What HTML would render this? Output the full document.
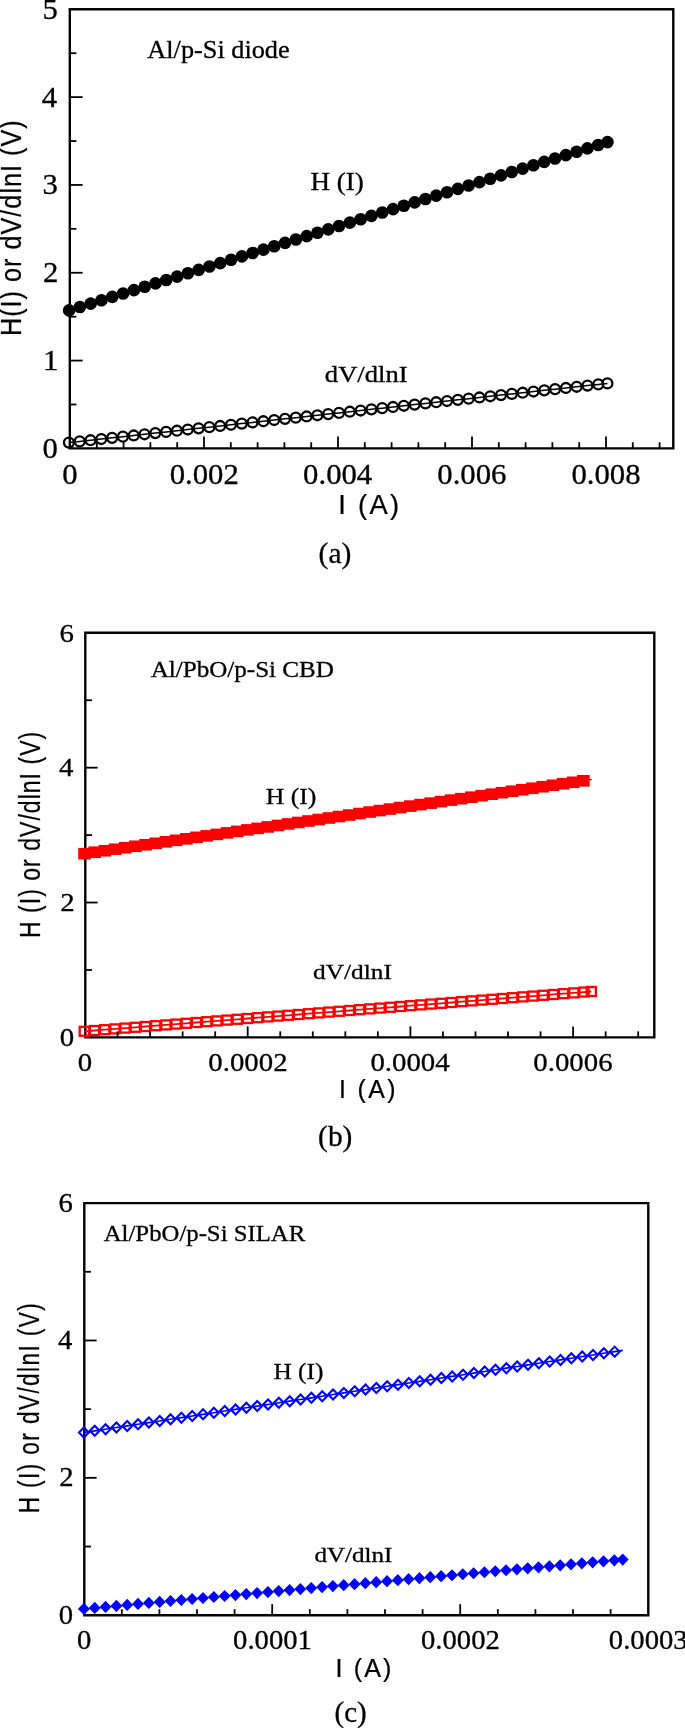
<!DOCTYPE html>
<html><head><meta charset="utf-8"><style>
html,body{margin:0;padding:0;background:#fff;}
body{width:685px;height:1728px;overflow:hidden;}
svg{display:block;will-change:transform;}
.s{font-family:"Liberation Serif",serif;stroke:#000;stroke-width:0.3px;}
.a{font-family:"Liberation Sans",sans-serif;stroke:#000;stroke-width:0.25px;}
</style></head><body>
<svg width="685" height="1728" viewBox="0 0 685 1728">
<rect width="685" height="1728" fill="#fff"/>
<path d="M69.80,9.30H673.30V448.40H69.80Z" fill="none" stroke="#000" stroke-width="2.4" stroke-linejoin="miter"/>
<polyline fill="none" stroke="#000" stroke-width="1.5" points="68.90,442.60 79.70,441.41 90.51,440.22 101.31,439.04 112.12,437.85 122.92,436.66 133.72,435.47 144.53,434.29 155.33,433.10 166.14,431.91 176.94,430.72 187.74,429.53 198.55,428.35 209.35,427.16 220.16,425.97 230.96,424.78 241.77,423.60 252.57,422.41 263.37,421.22 274.18,420.03 284.98,418.85 295.79,417.66 306.59,416.47 317.39,415.28 328.20,414.09 339.00,412.91 349.81,411.72 360.61,410.53 371.41,409.34 382.22,408.16 393.02,406.97 403.83,405.78 414.63,404.59 425.43,403.40 436.24,402.22 447.04,401.03 457.85,399.84 468.65,398.65 479.46,397.47 490.26,396.28 501.06,395.09 511.87,393.90 522.67,392.71 533.48,391.53 544.28,390.34 555.08,389.15 565.89,387.96 576.69,386.78 587.50,385.59 598.30,384.40 607.40,383.40"/>
<circle cx="68.90" cy="442.60" r="4.95" fill="none" stroke="#000" stroke-width="2.3"/>
<circle cx="79.70" cy="441.41" r="4.95" fill="none" stroke="#000" stroke-width="2.3"/>
<circle cx="90.51" cy="440.22" r="4.95" fill="none" stroke="#000" stroke-width="2.3"/>
<circle cx="101.31" cy="439.04" r="4.95" fill="none" stroke="#000" stroke-width="2.3"/>
<circle cx="112.12" cy="437.85" r="4.95" fill="none" stroke="#000" stroke-width="2.3"/>
<circle cx="122.92" cy="436.66" r="4.95" fill="none" stroke="#000" stroke-width="2.3"/>
<circle cx="133.72" cy="435.47" r="4.95" fill="none" stroke="#000" stroke-width="2.3"/>
<circle cx="144.53" cy="434.29" r="4.95" fill="none" stroke="#000" stroke-width="2.3"/>
<circle cx="155.33" cy="433.10" r="4.95" fill="none" stroke="#000" stroke-width="2.3"/>
<circle cx="166.14" cy="431.91" r="4.95" fill="none" stroke="#000" stroke-width="2.3"/>
<circle cx="176.94" cy="430.72" r="4.95" fill="none" stroke="#000" stroke-width="2.3"/>
<circle cx="187.74" cy="429.53" r="4.95" fill="none" stroke="#000" stroke-width="2.3"/>
<circle cx="198.55" cy="428.35" r="4.95" fill="none" stroke="#000" stroke-width="2.3"/>
<circle cx="209.35" cy="427.16" r="4.95" fill="none" stroke="#000" stroke-width="2.3"/>
<circle cx="220.16" cy="425.97" r="4.95" fill="none" stroke="#000" stroke-width="2.3"/>
<circle cx="230.96" cy="424.78" r="4.95" fill="none" stroke="#000" stroke-width="2.3"/>
<circle cx="241.77" cy="423.60" r="4.95" fill="none" stroke="#000" stroke-width="2.3"/>
<circle cx="252.57" cy="422.41" r="4.95" fill="none" stroke="#000" stroke-width="2.3"/>
<circle cx="263.37" cy="421.22" r="4.95" fill="none" stroke="#000" stroke-width="2.3"/>
<circle cx="274.18" cy="420.03" r="4.95" fill="none" stroke="#000" stroke-width="2.3"/>
<circle cx="284.98" cy="418.85" r="4.95" fill="none" stroke="#000" stroke-width="2.3"/>
<circle cx="295.79" cy="417.66" r="4.95" fill="none" stroke="#000" stroke-width="2.3"/>
<circle cx="306.59" cy="416.47" r="4.95" fill="none" stroke="#000" stroke-width="2.3"/>
<circle cx="317.39" cy="415.28" r="4.95" fill="none" stroke="#000" stroke-width="2.3"/>
<circle cx="328.20" cy="414.09" r="4.95" fill="none" stroke="#000" stroke-width="2.3"/>
<circle cx="339.00" cy="412.91" r="4.95" fill="none" stroke="#000" stroke-width="2.3"/>
<circle cx="349.81" cy="411.72" r="4.95" fill="none" stroke="#000" stroke-width="2.3"/>
<circle cx="360.61" cy="410.53" r="4.95" fill="none" stroke="#000" stroke-width="2.3"/>
<circle cx="371.41" cy="409.34" r="4.95" fill="none" stroke="#000" stroke-width="2.3"/>
<circle cx="382.22" cy="408.16" r="4.95" fill="none" stroke="#000" stroke-width="2.3"/>
<circle cx="393.02" cy="406.97" r="4.95" fill="none" stroke="#000" stroke-width="2.3"/>
<circle cx="403.83" cy="405.78" r="4.95" fill="none" stroke="#000" stroke-width="2.3"/>
<circle cx="414.63" cy="404.59" r="4.95" fill="none" stroke="#000" stroke-width="2.3"/>
<circle cx="425.43" cy="403.40" r="4.95" fill="none" stroke="#000" stroke-width="2.3"/>
<circle cx="436.24" cy="402.22" r="4.95" fill="none" stroke="#000" stroke-width="2.3"/>
<circle cx="447.04" cy="401.03" r="4.95" fill="none" stroke="#000" stroke-width="2.3"/>
<circle cx="457.85" cy="399.84" r="4.95" fill="none" stroke="#000" stroke-width="2.3"/>
<circle cx="468.65" cy="398.65" r="4.95" fill="none" stroke="#000" stroke-width="2.3"/>
<circle cx="479.46" cy="397.47" r="4.95" fill="none" stroke="#000" stroke-width="2.3"/>
<circle cx="490.26" cy="396.28" r="4.95" fill="none" stroke="#000" stroke-width="2.3"/>
<circle cx="501.06" cy="395.09" r="4.95" fill="none" stroke="#000" stroke-width="2.3"/>
<circle cx="511.87" cy="393.90" r="4.95" fill="none" stroke="#000" stroke-width="2.3"/>
<circle cx="522.67" cy="392.71" r="4.95" fill="none" stroke="#000" stroke-width="2.3"/>
<circle cx="533.48" cy="391.53" r="4.95" fill="none" stroke="#000" stroke-width="2.3"/>
<circle cx="544.28" cy="390.34" r="4.95" fill="none" stroke="#000" stroke-width="2.3"/>
<circle cx="555.08" cy="389.15" r="4.95" fill="none" stroke="#000" stroke-width="2.3"/>
<circle cx="565.89" cy="387.96" r="4.95" fill="none" stroke="#000" stroke-width="2.3"/>
<circle cx="576.69" cy="386.78" r="4.95" fill="none" stroke="#000" stroke-width="2.3"/>
<circle cx="587.50" cy="385.59" r="4.95" fill="none" stroke="#000" stroke-width="2.3"/>
<circle cx="598.30" cy="384.40" r="4.95" fill="none" stroke="#000" stroke-width="2.3"/>
<circle cx="607.40" cy="383.40" r="4.95" fill="none" stroke="#000" stroke-width="2.3"/>
<circle cx="69.10" cy="310.40" r="6.3" fill="#000"/>
<circle cx="79.90" cy="307.02" r="6.3" fill="#000"/>
<circle cx="90.70" cy="303.65" r="6.3" fill="#000"/>
<circle cx="101.49" cy="300.27" r="6.3" fill="#000"/>
<circle cx="112.29" cy="296.90" r="6.3" fill="#000"/>
<circle cx="123.09" cy="293.52" r="6.3" fill="#000"/>
<circle cx="133.89" cy="290.15" r="6.3" fill="#000"/>
<circle cx="144.69" cy="286.77" r="6.3" fill="#000"/>
<circle cx="155.48" cy="283.40" r="6.3" fill="#000"/>
<circle cx="166.28" cy="280.02" r="6.3" fill="#000"/>
<circle cx="177.08" cy="276.65" r="6.3" fill="#000"/>
<circle cx="187.88" cy="273.27" r="6.3" fill="#000"/>
<circle cx="198.68" cy="269.90" r="6.3" fill="#000"/>
<circle cx="209.47" cy="266.52" r="6.3" fill="#000"/>
<circle cx="220.27" cy="263.14" r="6.3" fill="#000"/>
<circle cx="231.07" cy="259.77" r="6.3" fill="#000"/>
<circle cx="241.87" cy="256.39" r="6.3" fill="#000"/>
<circle cx="252.67" cy="253.02" r="6.3" fill="#000"/>
<circle cx="263.46" cy="249.64" r="6.3" fill="#000"/>
<circle cx="274.26" cy="246.27" r="6.3" fill="#000"/>
<circle cx="285.06" cy="242.89" r="6.3" fill="#000"/>
<circle cx="295.86" cy="239.52" r="6.3" fill="#000"/>
<circle cx="306.66" cy="236.14" r="6.3" fill="#000"/>
<circle cx="317.45" cy="232.77" r="6.3" fill="#000"/>
<circle cx="328.25" cy="229.39" r="6.3" fill="#000"/>
<circle cx="339.05" cy="226.02" r="6.3" fill="#000"/>
<circle cx="349.85" cy="222.64" r="6.3" fill="#000"/>
<circle cx="360.64" cy="219.27" r="6.3" fill="#000"/>
<circle cx="371.44" cy="215.89" r="6.3" fill="#000"/>
<circle cx="382.24" cy="212.51" r="6.3" fill="#000"/>
<circle cx="393.04" cy="209.14" r="6.3" fill="#000"/>
<circle cx="403.84" cy="205.76" r="6.3" fill="#000"/>
<circle cx="414.63" cy="202.39" r="6.3" fill="#000"/>
<circle cx="425.43" cy="199.01" r="6.3" fill="#000"/>
<circle cx="436.23" cy="195.64" r="6.3" fill="#000"/>
<circle cx="447.03" cy="192.26" r="6.3" fill="#000"/>
<circle cx="457.83" cy="188.89" r="6.3" fill="#000"/>
<circle cx="468.62" cy="185.51" r="6.3" fill="#000"/>
<circle cx="479.42" cy="182.14" r="6.3" fill="#000"/>
<circle cx="490.22" cy="178.76" r="6.3" fill="#000"/>
<circle cx="501.02" cy="175.39" r="6.3" fill="#000"/>
<circle cx="511.82" cy="172.01" r="6.3" fill="#000"/>
<circle cx="522.61" cy="168.63" r="6.3" fill="#000"/>
<circle cx="533.41" cy="165.26" r="6.3" fill="#000"/>
<circle cx="544.21" cy="161.88" r="6.3" fill="#000"/>
<circle cx="555.01" cy="158.51" r="6.3" fill="#000"/>
<circle cx="565.81" cy="155.13" r="6.3" fill="#000"/>
<circle cx="576.60" cy="151.76" r="6.3" fill="#000"/>
<circle cx="587.40" cy="148.38" r="6.3" fill="#000"/>
<circle cx="598.20" cy="145.01" r="6.3" fill="#000"/>
<circle cx="607.50" cy="142.10" r="6.3" fill="#000"/>
<line x1="69.80" y1="404.49" x2="76.40" y2="404.49" stroke="#000" stroke-width="1.8"/>
<line x1="69.80" y1="360.58" x2="82.60" y2="360.58" stroke="#000" stroke-width="1.8"/>
<line x1="69.80" y1="316.67" x2="76.40" y2="316.67" stroke="#000" stroke-width="1.8"/>
<line x1="69.80" y1="272.76" x2="82.60" y2="272.76" stroke="#000" stroke-width="1.8"/>
<line x1="69.80" y1="228.85" x2="76.40" y2="228.85" stroke="#000" stroke-width="1.8"/>
<line x1="69.80" y1="184.94" x2="82.60" y2="184.94" stroke="#000" stroke-width="1.8"/>
<line x1="69.80" y1="141.03" x2="76.40" y2="141.03" stroke="#000" stroke-width="1.8"/>
<line x1="69.80" y1="97.12" x2="82.60" y2="97.12" stroke="#000" stroke-width="1.8"/>
<line x1="69.80" y1="53.21" x2="76.40" y2="53.21" stroke="#000" stroke-width="1.8"/>
<line x1="96.80" y1="448.40" x2="96.80" y2="442.20" stroke="#000" stroke-width="1.8"/>
<line x1="123.60" y1="448.40" x2="123.60" y2="442.20" stroke="#000" stroke-width="1.8"/>
<line x1="150.40" y1="448.40" x2="150.40" y2="442.20" stroke="#000" stroke-width="1.8"/>
<line x1="177.20" y1="448.40" x2="177.20" y2="442.20" stroke="#000" stroke-width="1.8"/>
<line x1="204.00" y1="448.40" x2="204.00" y2="436.40" stroke="#000" stroke-width="1.8"/>
<line x1="230.80" y1="448.40" x2="230.80" y2="442.20" stroke="#000" stroke-width="1.8"/>
<line x1="257.60" y1="448.40" x2="257.60" y2="442.20" stroke="#000" stroke-width="1.8"/>
<line x1="284.40" y1="448.40" x2="284.40" y2="442.20" stroke="#000" stroke-width="1.8"/>
<line x1="311.20" y1="448.40" x2="311.20" y2="442.20" stroke="#000" stroke-width="1.8"/>
<line x1="338.00" y1="448.40" x2="338.00" y2="436.40" stroke="#000" stroke-width="1.8"/>
<line x1="364.80" y1="448.40" x2="364.80" y2="442.20" stroke="#000" stroke-width="1.8"/>
<line x1="391.60" y1="448.40" x2="391.60" y2="442.20" stroke="#000" stroke-width="1.8"/>
<line x1="418.40" y1="448.40" x2="418.40" y2="442.20" stroke="#000" stroke-width="1.8"/>
<line x1="445.20" y1="448.40" x2="445.20" y2="442.20" stroke="#000" stroke-width="1.8"/>
<line x1="472.00" y1="448.40" x2="472.00" y2="436.40" stroke="#000" stroke-width="1.8"/>
<line x1="498.80" y1="448.40" x2="498.80" y2="442.20" stroke="#000" stroke-width="1.8"/>
<line x1="525.60" y1="448.40" x2="525.60" y2="442.20" stroke="#000" stroke-width="1.8"/>
<line x1="552.40" y1="448.40" x2="552.40" y2="442.20" stroke="#000" stroke-width="1.8"/>
<line x1="579.20" y1="448.40" x2="579.20" y2="442.20" stroke="#000" stroke-width="1.8"/>
<line x1="606.00" y1="448.40" x2="606.00" y2="436.40" stroke="#000" stroke-width="1.8"/>
<line x1="632.80" y1="448.40" x2="632.80" y2="442.20" stroke="#000" stroke-width="1.8"/>
<line x1="659.60" y1="448.40" x2="659.60" y2="442.20" stroke="#000" stroke-width="1.8"/>
<text transform="translate(42.40,457.90) scale(1.0700,1)" class="s" font-size="28.70">0</text>
<text transform="translate(43.09,370.08) scale(1.0700,1)" class="s" font-size="28.70">1</text>
<text transform="translate(42.93,282.26) scale(1.0700,1)" class="s" font-size="28.70">2</text>
<text transform="translate(42.47,194.44) scale(1.0700,1)" class="s" font-size="28.70">3</text>
<text transform="translate(41.71,106.62) scale(1.0700,1)" class="s" font-size="28.70">4</text>
<text transform="translate(42.47,18.80) scale(1.0700,1)" class="s" font-size="28.70">5</text>
<text transform="translate(62.32,484.10) scale(1.0700,1)" class="s" font-size="28.70">0</text>
<text transform="translate(169.72,484.10) scale(1.0700,1)" class="s" font-size="28.70">0.002</text>
<text transform="translate(303.11,484.10) scale(1.0700,1)" class="s" font-size="28.70">0.004</text>
<text transform="translate(437.34,484.10) scale(1.0700,1)" class="s" font-size="28.70">0.006</text>
<text transform="translate(571.45,484.10) scale(1.0700,1)" class="s" font-size="28.70">0.008</text>
<text transform="translate(338.37,513.60) scale(0.9700,1)" class="a" font-size="28.22" letter-spacing="2.340" fill="#000">I (A)</text>
<text transform="translate(318.57,562.60) scale(1.0112,1)" class="s" font-size="29.21" fill="#000">(a)</text>
<text transform="translate(21.30,336.08) rotate(-90) scale(0.8500,1)" class="a" font-size="29.67" letter-spacing="1.199">H(I) or dV/dlnI (V)</text>
<text transform="translate(147.34,58.10) scale(1.0498,1)" class="s" font-size="25.04" fill="#000">Al/p-Si diode</text>
<text transform="translate(310.39,190.00) scale(1.1159,1)" class="s" font-size="24.27" fill="#000">H (I)</text>
<text transform="translate(324.87,382.20) scale(1.1347,1)" class="s" font-size="23.45" fill="#000">dV/dlnI</text>
<path d="M85.30,632.80H654.30V1037.40H85.30Z" fill="none" stroke="#000" stroke-width="2.4" stroke-linejoin="miter"/>
<polyline fill="none" stroke="#ff0000" stroke-width="1.8" points="84.30,1031.30 94.50,1030.50 104.70,1029.70 114.89,1028.90 125.09,1028.10 135.29,1027.30 145.49,1026.50 155.69,1025.70 165.88,1024.90 176.08,1024.10 186.28,1023.29 196.48,1022.49 206.68,1021.69 216.87,1020.89 227.07,1020.09 237.27,1019.29 247.47,1018.49 257.67,1017.69 267.86,1016.89 278.06,1016.09 288.26,1015.29 298.46,1014.49 308.66,1013.69 318.85,1012.89 329.05,1012.09 339.25,1011.29 349.45,1010.49 359.64,1009.69 369.84,1008.88 380.04,1008.08 390.24,1007.28 400.44,1006.48 410.63,1005.68 420.83,1004.88 431.03,1004.08 441.23,1003.28 451.43,1002.48 461.62,1001.68 471.82,1000.88 482.02,1000.08 492.22,999.28 502.42,998.48 512.61,997.68 522.81,996.88 533.01,996.08 543.21,995.28 553.41,994.47 563.60,993.67 573.80,992.87 584.00,992.07 591.30,991.50"/>
<rect x="79.70" y="1026.80" width="9.2" height="9.0" fill="none" stroke="#ff0000" stroke-width="2.3"/>
<rect x="89.90" y="1026.00" width="9.2" height="9.0" fill="none" stroke="#ff0000" stroke-width="2.3"/>
<rect x="100.10" y="1025.20" width="9.2" height="9.0" fill="none" stroke="#ff0000" stroke-width="2.3"/>
<rect x="110.29" y="1024.40" width="9.2" height="9.0" fill="none" stroke="#ff0000" stroke-width="2.3"/>
<rect x="120.49" y="1023.60" width="9.2" height="9.0" fill="none" stroke="#ff0000" stroke-width="2.3"/>
<rect x="130.69" y="1022.80" width="9.2" height="9.0" fill="none" stroke="#ff0000" stroke-width="2.3"/>
<rect x="140.89" y="1022.00" width="9.2" height="9.0" fill="none" stroke="#ff0000" stroke-width="2.3"/>
<rect x="151.09" y="1021.20" width="9.2" height="9.0" fill="none" stroke="#ff0000" stroke-width="2.3"/>
<rect x="161.28" y="1020.40" width="9.2" height="9.0" fill="none" stroke="#ff0000" stroke-width="2.3"/>
<rect x="171.48" y="1019.60" width="9.2" height="9.0" fill="none" stroke="#ff0000" stroke-width="2.3"/>
<rect x="181.68" y="1018.79" width="9.2" height="9.0" fill="none" stroke="#ff0000" stroke-width="2.3"/>
<rect x="191.88" y="1017.99" width="9.2" height="9.0" fill="none" stroke="#ff0000" stroke-width="2.3"/>
<rect x="202.08" y="1017.19" width="9.2" height="9.0" fill="none" stroke="#ff0000" stroke-width="2.3"/>
<rect x="212.27" y="1016.39" width="9.2" height="9.0" fill="none" stroke="#ff0000" stroke-width="2.3"/>
<rect x="222.47" y="1015.59" width="9.2" height="9.0" fill="none" stroke="#ff0000" stroke-width="2.3"/>
<rect x="232.67" y="1014.79" width="9.2" height="9.0" fill="none" stroke="#ff0000" stroke-width="2.3"/>
<rect x="242.87" y="1013.99" width="9.2" height="9.0" fill="none" stroke="#ff0000" stroke-width="2.3"/>
<rect x="253.07" y="1013.19" width="9.2" height="9.0" fill="none" stroke="#ff0000" stroke-width="2.3"/>
<rect x="263.26" y="1012.39" width="9.2" height="9.0" fill="none" stroke="#ff0000" stroke-width="2.3"/>
<rect x="273.46" y="1011.59" width="9.2" height="9.0" fill="none" stroke="#ff0000" stroke-width="2.3"/>
<rect x="283.66" y="1010.79" width="9.2" height="9.0" fill="none" stroke="#ff0000" stroke-width="2.3"/>
<rect x="293.86" y="1009.99" width="9.2" height="9.0" fill="none" stroke="#ff0000" stroke-width="2.3"/>
<rect x="304.06" y="1009.19" width="9.2" height="9.0" fill="none" stroke="#ff0000" stroke-width="2.3"/>
<rect x="314.25" y="1008.39" width="9.2" height="9.0" fill="none" stroke="#ff0000" stroke-width="2.3"/>
<rect x="324.45" y="1007.59" width="9.2" height="9.0" fill="none" stroke="#ff0000" stroke-width="2.3"/>
<rect x="334.65" y="1006.79" width="9.2" height="9.0" fill="none" stroke="#ff0000" stroke-width="2.3"/>
<rect x="344.85" y="1005.99" width="9.2" height="9.0" fill="none" stroke="#ff0000" stroke-width="2.3"/>
<rect x="355.04" y="1005.19" width="9.2" height="9.0" fill="none" stroke="#ff0000" stroke-width="2.3"/>
<rect x="365.24" y="1004.38" width="9.2" height="9.0" fill="none" stroke="#ff0000" stroke-width="2.3"/>
<rect x="375.44" y="1003.58" width="9.2" height="9.0" fill="none" stroke="#ff0000" stroke-width="2.3"/>
<rect x="385.64" y="1002.78" width="9.2" height="9.0" fill="none" stroke="#ff0000" stroke-width="2.3"/>
<rect x="395.84" y="1001.98" width="9.2" height="9.0" fill="none" stroke="#ff0000" stroke-width="2.3"/>
<rect x="406.03" y="1001.18" width="9.2" height="9.0" fill="none" stroke="#ff0000" stroke-width="2.3"/>
<rect x="416.23" y="1000.38" width="9.2" height="9.0" fill="none" stroke="#ff0000" stroke-width="2.3"/>
<rect x="426.43" y="999.58" width="9.2" height="9.0" fill="none" stroke="#ff0000" stroke-width="2.3"/>
<rect x="436.63" y="998.78" width="9.2" height="9.0" fill="none" stroke="#ff0000" stroke-width="2.3"/>
<rect x="446.83" y="997.98" width="9.2" height="9.0" fill="none" stroke="#ff0000" stroke-width="2.3"/>
<rect x="457.02" y="997.18" width="9.2" height="9.0" fill="none" stroke="#ff0000" stroke-width="2.3"/>
<rect x="467.22" y="996.38" width="9.2" height="9.0" fill="none" stroke="#ff0000" stroke-width="2.3"/>
<rect x="477.42" y="995.58" width="9.2" height="9.0" fill="none" stroke="#ff0000" stroke-width="2.3"/>
<rect x="487.62" y="994.78" width="9.2" height="9.0" fill="none" stroke="#ff0000" stroke-width="2.3"/>
<rect x="497.82" y="993.98" width="9.2" height="9.0" fill="none" stroke="#ff0000" stroke-width="2.3"/>
<rect x="508.01" y="993.18" width="9.2" height="9.0" fill="none" stroke="#ff0000" stroke-width="2.3"/>
<rect x="518.21" y="992.38" width="9.2" height="9.0" fill="none" stroke="#ff0000" stroke-width="2.3"/>
<rect x="528.41" y="991.58" width="9.2" height="9.0" fill="none" stroke="#ff0000" stroke-width="2.3"/>
<rect x="538.61" y="990.78" width="9.2" height="9.0" fill="none" stroke="#ff0000" stroke-width="2.3"/>
<rect x="548.81" y="989.97" width="9.2" height="9.0" fill="none" stroke="#ff0000" stroke-width="2.3"/>
<rect x="559.00" y="989.17" width="9.2" height="9.0" fill="none" stroke="#ff0000" stroke-width="2.3"/>
<rect x="569.20" y="988.37" width="9.2" height="9.0" fill="none" stroke="#ff0000" stroke-width="2.3"/>
<rect x="579.40" y="987.57" width="9.2" height="9.0" fill="none" stroke="#ff0000" stroke-width="2.3"/>
<rect x="586.70" y="987.00" width="9.2" height="9.0" fill="none" stroke="#ff0000" stroke-width="2.3"/>
<line x1="583.40" y1="780.00" x2="591.50" y2="779.60" stroke="#000" stroke-width="1.2"/>
<rect x="78.20" y="847.90" width="12.6" height="11.6" fill="#ff0000"/>
<rect x="88.38" y="846.41" width="12.6" height="11.6" fill="#ff0000"/>
<rect x="98.56" y="844.92" width="12.6" height="11.6" fill="#ff0000"/>
<rect x="108.74" y="843.44" width="12.6" height="11.6" fill="#ff0000"/>
<rect x="118.93" y="841.95" width="12.6" height="11.6" fill="#ff0000"/>
<rect x="129.11" y="840.46" width="12.6" height="11.6" fill="#ff0000"/>
<rect x="139.29" y="838.97" width="12.6" height="11.6" fill="#ff0000"/>
<rect x="149.47" y="837.49" width="12.6" height="11.6" fill="#ff0000"/>
<rect x="159.65" y="836.00" width="12.6" height="11.6" fill="#ff0000"/>
<rect x="169.83" y="834.51" width="12.6" height="11.6" fill="#ff0000"/>
<rect x="180.02" y="833.02" width="12.6" height="11.6" fill="#ff0000"/>
<rect x="190.20" y="831.53" width="12.6" height="11.6" fill="#ff0000"/>
<rect x="200.38" y="830.05" width="12.6" height="11.6" fill="#ff0000"/>
<rect x="210.56" y="828.56" width="12.6" height="11.6" fill="#ff0000"/>
<rect x="220.74" y="827.07" width="12.6" height="11.6" fill="#ff0000"/>
<rect x="230.92" y="825.58" width="12.6" height="11.6" fill="#ff0000"/>
<rect x="241.11" y="824.10" width="12.6" height="11.6" fill="#ff0000"/>
<rect x="251.29" y="822.61" width="12.6" height="11.6" fill="#ff0000"/>
<rect x="261.47" y="821.12" width="12.6" height="11.6" fill="#ff0000"/>
<rect x="271.65" y="819.63" width="12.6" height="11.6" fill="#ff0000"/>
<rect x="281.83" y="818.14" width="12.6" height="11.6" fill="#ff0000"/>
<rect x="292.01" y="816.66" width="12.6" height="11.6" fill="#ff0000"/>
<rect x="302.20" y="815.17" width="12.6" height="11.6" fill="#ff0000"/>
<rect x="312.38" y="813.68" width="12.6" height="11.6" fill="#ff0000"/>
<rect x="322.56" y="812.19" width="12.6" height="11.6" fill="#ff0000"/>
<rect x="332.74" y="810.71" width="12.6" height="11.6" fill="#ff0000"/>
<rect x="342.92" y="809.22" width="12.6" height="11.6" fill="#ff0000"/>
<rect x="353.10" y="807.73" width="12.6" height="11.6" fill="#ff0000"/>
<rect x="363.29" y="806.24" width="12.6" height="11.6" fill="#ff0000"/>
<rect x="373.47" y="804.76" width="12.6" height="11.6" fill="#ff0000"/>
<rect x="383.65" y="803.27" width="12.6" height="11.6" fill="#ff0000"/>
<rect x="393.83" y="801.78" width="12.6" height="11.6" fill="#ff0000"/>
<rect x="404.01" y="800.29" width="12.6" height="11.6" fill="#ff0000"/>
<rect x="414.19" y="798.80" width="12.6" height="11.6" fill="#ff0000"/>
<rect x="424.38" y="797.32" width="12.6" height="11.6" fill="#ff0000"/>
<rect x="434.56" y="795.83" width="12.6" height="11.6" fill="#ff0000"/>
<rect x="444.74" y="794.34" width="12.6" height="11.6" fill="#ff0000"/>
<rect x="454.92" y="792.85" width="12.6" height="11.6" fill="#ff0000"/>
<rect x="465.10" y="791.37" width="12.6" height="11.6" fill="#ff0000"/>
<rect x="475.28" y="789.88" width="12.6" height="11.6" fill="#ff0000"/>
<rect x="485.47" y="788.39" width="12.6" height="11.6" fill="#ff0000"/>
<rect x="495.65" y="786.90" width="12.6" height="11.6" fill="#ff0000"/>
<rect x="505.83" y="785.41" width="12.6" height="11.6" fill="#ff0000"/>
<rect x="516.01" y="783.93" width="12.6" height="11.6" fill="#ff0000"/>
<rect x="526.19" y="782.44" width="12.6" height="11.6" fill="#ff0000"/>
<rect x="536.37" y="780.95" width="12.6" height="11.6" fill="#ff0000"/>
<rect x="546.56" y="779.46" width="12.6" height="11.6" fill="#ff0000"/>
<rect x="556.74" y="777.98" width="12.6" height="11.6" fill="#ff0000"/>
<rect x="566.92" y="776.49" width="12.6" height="11.6" fill="#ff0000"/>
<rect x="577.10" y="775.00" width="12.6" height="11.6" fill="#ff0000"/>
<line x1="85.30" y1="969.97" x2="91.90" y2="969.97" stroke="#000" stroke-width="1.8"/>
<line x1="85.30" y1="902.53" x2="97.60" y2="902.53" stroke="#000" stroke-width="1.8"/>
<line x1="85.30" y1="835.10" x2="91.90" y2="835.10" stroke="#000" stroke-width="1.8"/>
<line x1="85.30" y1="767.67" x2="97.60" y2="767.67" stroke="#000" stroke-width="1.8"/>
<line x1="85.30" y1="700.23" x2="91.90" y2="700.23" stroke="#000" stroke-width="1.8"/>
<line x1="117.54" y1="1037.40" x2="117.54" y2="1031.40" stroke="#000" stroke-width="1.8"/>
<line x1="150.08" y1="1037.40" x2="150.08" y2="1031.40" stroke="#000" stroke-width="1.8"/>
<line x1="182.62" y1="1037.40" x2="182.62" y2="1031.40" stroke="#000" stroke-width="1.8"/>
<line x1="215.16" y1="1037.40" x2="215.16" y2="1031.40" stroke="#000" stroke-width="1.8"/>
<line x1="247.70" y1="1037.40" x2="247.70" y2="1026.40" stroke="#000" stroke-width="1.8"/>
<line x1="280.24" y1="1037.40" x2="280.24" y2="1031.40" stroke="#000" stroke-width="1.8"/>
<line x1="312.78" y1="1037.40" x2="312.78" y2="1031.40" stroke="#000" stroke-width="1.8"/>
<line x1="345.32" y1="1037.40" x2="345.32" y2="1031.40" stroke="#000" stroke-width="1.8"/>
<line x1="377.86" y1="1037.40" x2="377.86" y2="1031.40" stroke="#000" stroke-width="1.8"/>
<line x1="410.40" y1="1037.40" x2="410.40" y2="1026.40" stroke="#000" stroke-width="1.8"/>
<line x1="442.94" y1="1037.40" x2="442.94" y2="1031.40" stroke="#000" stroke-width="1.8"/>
<line x1="475.48" y1="1037.40" x2="475.48" y2="1031.40" stroke="#000" stroke-width="1.8"/>
<line x1="508.02" y1="1037.40" x2="508.02" y2="1031.40" stroke="#000" stroke-width="1.8"/>
<line x1="540.56" y1="1037.40" x2="540.56" y2="1031.40" stroke="#000" stroke-width="1.8"/>
<line x1="573.10" y1="1037.40" x2="573.10" y2="1026.40" stroke="#000" stroke-width="1.8"/>
<line x1="605.64" y1="1037.40" x2="605.64" y2="1031.40" stroke="#000" stroke-width="1.8"/>
<line x1="638.18" y1="1037.40" x2="638.18" y2="1031.40" stroke="#000" stroke-width="1.8"/>
<text transform="translate(59.67,1046.20) scale(1.1000,1)" class="s" font-size="26.20">0</text>
<text transform="translate(60.18,911.33) scale(1.1000,1)" class="s" font-size="26.20">2</text>
<text transform="translate(59.02,776.47) scale(1.1000,1)" class="s" font-size="26.20">4</text>
<text transform="translate(59.45,641.60) scale(1.1000,1)" class="s" font-size="26.20">6</text>
<text transform="translate(77.80,1071.20) scale(1.1000,1)" class="s" font-size="26.20">0</text>
<text transform="translate(208.32,1071.20) scale(1.1000,1)" class="s" font-size="26.20">0.0002</text>
<text transform="translate(370.45,1071.20) scale(1.1000,1)" class="s" font-size="26.20">0.0004</text>
<text transform="translate(533.36,1071.20) scale(1.1000,1)" class="s" font-size="26.20">0.0006</text>
<text transform="translate(339.00,1097.70) scale(0.9700,1)" class="a" font-size="25.60" letter-spacing="2.469" fill="#000">I (A)</text>
<text transform="translate(318.08,1146.30) scale(0.9974,1)" class="s" font-size="29.50" fill="#000">(b)</text>
<text transform="translate(39.70,938.00) rotate(-90) scale(0.7800,1)" class="a" font-size="29.53" letter-spacing="1.309">H (I) or dV/dlnI (V)</text>
<text transform="translate(150.65,676.70) scale(1.0831,1)" class="s" font-size="23.17" fill="#000">Al/PbO/p-Si CBD</text>
<text transform="translate(265.63,803.70) scale(1.0820,1)" class="s" font-size="23.82" fill="#000">H (I)</text>
<text transform="translate(313.01,979.40) scale(1.1673,1)" class="s" font-size="21.73" fill="#000">dV/dlnI</text>
<path d="M84.30,1203.10H648.30V1615.20H84.30Z" fill="none" stroke="#000" stroke-width="2.4" stroke-linejoin="miter"/>
<polyline fill="none" stroke="#0000ff" stroke-width="1.6" points="83.90,1432.50 94.73,1430.85 105.57,1429.20 116.40,1427.55 127.23,1425.90 138.06,1424.25 148.90,1422.60 159.73,1420.95 170.56,1419.30 181.39,1417.65 192.23,1416.00 203.06,1414.35 213.89,1412.70 224.72,1411.05 235.56,1409.40 246.39,1407.75 257.22,1406.09 268.06,1404.44 278.89,1402.79 289.72,1401.14 300.55,1399.49 311.39,1397.84 322.22,1396.19 333.05,1394.54 343.88,1392.89 354.72,1391.24 365.55,1389.59 376.38,1387.94 387.21,1386.29 398.05,1384.64 408.88,1382.99 419.71,1381.34 430.54,1379.69 441.38,1378.04 452.21,1376.39 463.04,1374.74 473.88,1373.09 484.71,1371.44 495.54,1369.79 506.37,1368.14 517.21,1366.49 528.04,1364.84 538.87,1363.19 549.70,1361.54 560.54,1359.89 571.37,1358.24 582.20,1356.58 593.03,1354.93 603.87,1353.28 614.70,1351.63 622.80,1350.40"/>
<path d="M79.00,1432.50L83.90,1427.50L88.80,1432.50L83.90,1437.50Z" fill="none" stroke="#0000ff" stroke-width="2.1"/>
<path d="M89.83,1430.85L94.73,1425.85L99.63,1430.85L94.73,1435.85Z" fill="none" stroke="#0000ff" stroke-width="2.1"/>
<path d="M100.67,1429.20L105.57,1424.20L110.47,1429.20L105.57,1434.20Z" fill="none" stroke="#0000ff" stroke-width="2.1"/>
<path d="M111.50,1427.55L116.40,1422.55L121.30,1427.55L116.40,1432.55Z" fill="none" stroke="#0000ff" stroke-width="2.1"/>
<path d="M122.33,1425.90L127.23,1420.90L132.13,1425.90L127.23,1430.90Z" fill="none" stroke="#0000ff" stroke-width="2.1"/>
<path d="M133.16,1424.25L138.06,1419.25L142.96,1424.25L138.06,1429.25Z" fill="none" stroke="#0000ff" stroke-width="2.1"/>
<path d="M144.00,1422.60L148.90,1417.60L153.80,1422.60L148.90,1427.60Z" fill="none" stroke="#0000ff" stroke-width="2.1"/>
<path d="M154.83,1420.95L159.73,1415.95L164.63,1420.95L159.73,1425.95Z" fill="none" stroke="#0000ff" stroke-width="2.1"/>
<path d="M165.66,1419.30L170.56,1414.30L175.46,1419.30L170.56,1424.30Z" fill="none" stroke="#0000ff" stroke-width="2.1"/>
<path d="M176.49,1417.65L181.39,1412.65L186.29,1417.65L181.39,1422.65Z" fill="none" stroke="#0000ff" stroke-width="2.1"/>
<path d="M187.33,1416.00L192.23,1411.00L197.13,1416.00L192.23,1421.00Z" fill="none" stroke="#0000ff" stroke-width="2.1"/>
<path d="M198.16,1414.35L203.06,1409.35L207.96,1414.35L203.06,1419.35Z" fill="none" stroke="#0000ff" stroke-width="2.1"/>
<path d="M208.99,1412.70L213.89,1407.70L218.79,1412.70L213.89,1417.70Z" fill="none" stroke="#0000ff" stroke-width="2.1"/>
<path d="M219.82,1411.05L224.72,1406.05L229.62,1411.05L224.72,1416.05Z" fill="none" stroke="#0000ff" stroke-width="2.1"/>
<path d="M230.66,1409.40L235.56,1404.40L240.46,1409.40L235.56,1414.40Z" fill="none" stroke="#0000ff" stroke-width="2.1"/>
<path d="M241.49,1407.75L246.39,1402.75L251.29,1407.75L246.39,1412.75Z" fill="none" stroke="#0000ff" stroke-width="2.1"/>
<path d="M252.32,1406.09L257.22,1401.09L262.12,1406.09L257.22,1411.09Z" fill="none" stroke="#0000ff" stroke-width="2.1"/>
<path d="M263.16,1404.44L268.06,1399.44L272.96,1404.44L268.06,1409.44Z" fill="none" stroke="#0000ff" stroke-width="2.1"/>
<path d="M273.99,1402.79L278.89,1397.79L283.79,1402.79L278.89,1407.79Z" fill="none" stroke="#0000ff" stroke-width="2.1"/>
<path d="M284.82,1401.14L289.72,1396.14L294.62,1401.14L289.72,1406.14Z" fill="none" stroke="#0000ff" stroke-width="2.1"/>
<path d="M295.65,1399.49L300.55,1394.49L305.45,1399.49L300.55,1404.49Z" fill="none" stroke="#0000ff" stroke-width="2.1"/>
<path d="M306.49,1397.84L311.39,1392.84L316.29,1397.84L311.39,1402.84Z" fill="none" stroke="#0000ff" stroke-width="2.1"/>
<path d="M317.32,1396.19L322.22,1391.19L327.12,1396.19L322.22,1401.19Z" fill="none" stroke="#0000ff" stroke-width="2.1"/>
<path d="M328.15,1394.54L333.05,1389.54L337.95,1394.54L333.05,1399.54Z" fill="none" stroke="#0000ff" stroke-width="2.1"/>
<path d="M338.98,1392.89L343.88,1387.89L348.78,1392.89L343.88,1397.89Z" fill="none" stroke="#0000ff" stroke-width="2.1"/>
<path d="M349.82,1391.24L354.72,1386.24L359.62,1391.24L354.72,1396.24Z" fill="none" stroke="#0000ff" stroke-width="2.1"/>
<path d="M360.65,1389.59L365.55,1384.59L370.45,1389.59L365.55,1394.59Z" fill="none" stroke="#0000ff" stroke-width="2.1"/>
<path d="M371.48,1387.94L376.38,1382.94L381.28,1387.94L376.38,1392.94Z" fill="none" stroke="#0000ff" stroke-width="2.1"/>
<path d="M382.31,1386.29L387.21,1381.29L392.11,1386.29L387.21,1391.29Z" fill="none" stroke="#0000ff" stroke-width="2.1"/>
<path d="M393.15,1384.64L398.05,1379.64L402.95,1384.64L398.05,1389.64Z" fill="none" stroke="#0000ff" stroke-width="2.1"/>
<path d="M403.98,1382.99L408.88,1377.99L413.78,1382.99L408.88,1387.99Z" fill="none" stroke="#0000ff" stroke-width="2.1"/>
<path d="M414.81,1381.34L419.71,1376.34L424.61,1381.34L419.71,1386.34Z" fill="none" stroke="#0000ff" stroke-width="2.1"/>
<path d="M425.64,1379.69L430.54,1374.69L435.44,1379.69L430.54,1384.69Z" fill="none" stroke="#0000ff" stroke-width="2.1"/>
<path d="M436.48,1378.04L441.38,1373.04L446.28,1378.04L441.38,1383.04Z" fill="none" stroke="#0000ff" stroke-width="2.1"/>
<path d="M447.31,1376.39L452.21,1371.39L457.11,1376.39L452.21,1381.39Z" fill="none" stroke="#0000ff" stroke-width="2.1"/>
<path d="M458.14,1374.74L463.04,1369.74L467.94,1374.74L463.04,1379.74Z" fill="none" stroke="#0000ff" stroke-width="2.1"/>
<path d="M468.98,1373.09L473.88,1368.09L478.78,1373.09L473.88,1378.09Z" fill="none" stroke="#0000ff" stroke-width="2.1"/>
<path d="M479.81,1371.44L484.71,1366.44L489.61,1371.44L484.71,1376.44Z" fill="none" stroke="#0000ff" stroke-width="2.1"/>
<path d="M490.64,1369.79L495.54,1364.79L500.44,1369.79L495.54,1374.79Z" fill="none" stroke="#0000ff" stroke-width="2.1"/>
<path d="M501.47,1368.14L506.37,1363.14L511.27,1368.14L506.37,1373.14Z" fill="none" stroke="#0000ff" stroke-width="2.1"/>
<path d="M512.31,1366.49L517.21,1361.49L522.11,1366.49L517.21,1371.49Z" fill="none" stroke="#0000ff" stroke-width="2.1"/>
<path d="M523.14,1364.84L528.04,1359.84L532.94,1364.84L528.04,1369.84Z" fill="none" stroke="#0000ff" stroke-width="2.1"/>
<path d="M533.97,1363.19L538.87,1358.19L543.77,1363.19L538.87,1368.19Z" fill="none" stroke="#0000ff" stroke-width="2.1"/>
<path d="M544.80,1361.54L549.70,1356.54L554.60,1361.54L549.70,1366.54Z" fill="none" stroke="#0000ff" stroke-width="2.1"/>
<path d="M555.64,1359.89L560.54,1354.89L565.44,1359.89L560.54,1364.89Z" fill="none" stroke="#0000ff" stroke-width="2.1"/>
<path d="M566.47,1358.24L571.37,1353.24L576.27,1358.24L571.37,1363.24Z" fill="none" stroke="#0000ff" stroke-width="2.1"/>
<path d="M577.30,1356.58L582.20,1351.58L587.10,1356.58L582.20,1361.58Z" fill="none" stroke="#0000ff" stroke-width="2.1"/>
<path d="M588.13,1354.93L593.03,1349.93L597.93,1354.93L593.03,1359.93Z" fill="none" stroke="#0000ff" stroke-width="2.1"/>
<path d="M598.97,1353.28L603.87,1348.28L608.77,1353.28L603.87,1358.28Z" fill="none" stroke="#0000ff" stroke-width="2.1"/>
<path d="M609.80,1351.63L614.70,1346.63L619.60,1351.63L614.70,1356.63Z" fill="none" stroke="#0000ff" stroke-width="2.1"/>
<path d="M77.90,1608.90L83.90,1602.80L89.90,1608.90L83.90,1615.00Z" fill="#0000ff"/>
<path d="M88.72,1607.91L94.72,1601.81L100.72,1607.91L94.72,1614.01Z" fill="#0000ff"/>
<path d="M99.55,1606.92L105.55,1600.82L111.55,1606.92L105.55,1613.02Z" fill="#0000ff"/>
<path d="M110.37,1605.93L116.37,1599.83L122.37,1605.93L116.37,1612.03Z" fill="#0000ff"/>
<path d="M121.20,1604.94L127.20,1598.84L133.20,1604.94L127.20,1611.04Z" fill="#0000ff"/>
<path d="M132.02,1603.95L138.02,1597.85L144.02,1603.95L138.02,1610.05Z" fill="#0000ff"/>
<path d="M142.85,1602.96L148.85,1596.86L154.85,1602.96L148.85,1609.06Z" fill="#0000ff"/>
<path d="M153.67,1601.97L159.67,1595.87L165.67,1601.97L159.67,1608.07Z" fill="#0000ff"/>
<path d="M164.50,1600.98L170.50,1594.88L176.50,1600.98L170.50,1607.08Z" fill="#0000ff"/>
<path d="M175.32,1599.99L181.32,1593.89L187.32,1599.99L181.32,1606.09Z" fill="#0000ff"/>
<path d="M186.14,1599.00L192.14,1592.90L198.14,1599.00L192.14,1605.10Z" fill="#0000ff"/>
<path d="M196.97,1598.01L202.97,1591.91L208.97,1598.01L202.97,1604.11Z" fill="#0000ff"/>
<path d="M207.79,1597.01L213.79,1590.91L219.79,1597.01L213.79,1603.11Z" fill="#0000ff"/>
<path d="M218.62,1596.02L224.62,1589.92L230.62,1596.02L224.62,1602.12Z" fill="#0000ff"/>
<path d="M229.44,1595.03L235.44,1588.93L241.44,1595.03L235.44,1601.13Z" fill="#0000ff"/>
<path d="M240.27,1594.04L246.27,1587.94L252.27,1594.04L246.27,1600.14Z" fill="#0000ff"/>
<path d="M251.09,1593.05L257.09,1586.95L263.09,1593.05L257.09,1599.15Z" fill="#0000ff"/>
<path d="M261.92,1592.06L267.92,1585.96L273.92,1592.06L267.92,1598.16Z" fill="#0000ff"/>
<path d="M272.74,1591.07L278.74,1584.97L284.74,1591.07L278.74,1597.17Z" fill="#0000ff"/>
<path d="M283.57,1590.08L289.57,1583.98L295.57,1590.08L289.57,1596.18Z" fill="#0000ff"/>
<path d="M294.39,1589.09L300.39,1582.99L306.39,1589.09L300.39,1595.19Z" fill="#0000ff"/>
<path d="M305.21,1588.10L311.21,1582.00L317.21,1588.10L311.21,1594.20Z" fill="#0000ff"/>
<path d="M316.04,1587.11L322.04,1581.01L328.04,1587.11L322.04,1593.21Z" fill="#0000ff"/>
<path d="M326.86,1586.12L332.86,1580.02L338.86,1586.12L332.86,1592.22Z" fill="#0000ff"/>
<path d="M337.69,1585.13L343.69,1579.03L349.69,1585.13L343.69,1591.23Z" fill="#0000ff"/>
<path d="M348.51,1584.14L354.51,1578.04L360.51,1584.14L354.51,1590.24Z" fill="#0000ff"/>
<path d="M359.34,1583.15L365.34,1577.05L371.34,1583.15L365.34,1589.25Z" fill="#0000ff"/>
<path d="M370.16,1582.16L376.16,1576.06L382.16,1582.16L376.16,1588.26Z" fill="#0000ff"/>
<path d="M380.99,1581.17L386.99,1575.07L392.99,1581.17L386.99,1587.27Z" fill="#0000ff"/>
<path d="M391.81,1580.18L397.81,1574.08L403.81,1580.18L397.81,1586.28Z" fill="#0000ff"/>
<path d="M402.63,1579.19L408.63,1573.09L414.63,1579.19L408.63,1585.29Z" fill="#0000ff"/>
<path d="M413.46,1578.20L419.46,1572.10L425.46,1578.20L419.46,1584.30Z" fill="#0000ff"/>
<path d="M424.28,1577.21L430.28,1571.11L436.28,1577.21L430.28,1583.31Z" fill="#0000ff"/>
<path d="M435.11,1576.22L441.11,1570.12L447.11,1576.22L441.11,1582.32Z" fill="#0000ff"/>
<path d="M445.93,1575.23L451.93,1569.13L457.93,1575.23L451.93,1581.33Z" fill="#0000ff"/>
<path d="M456.76,1574.23L462.76,1568.13L468.76,1574.23L462.76,1580.33Z" fill="#0000ff"/>
<path d="M467.58,1573.24L473.58,1567.14L479.58,1573.24L473.58,1579.34Z" fill="#0000ff"/>
<path d="M478.41,1572.25L484.41,1566.15L490.41,1572.25L484.41,1578.35Z" fill="#0000ff"/>
<path d="M489.23,1571.26L495.23,1565.16L501.23,1571.26L495.23,1577.36Z" fill="#0000ff"/>
<path d="M500.06,1570.27L506.06,1564.17L512.06,1570.27L506.06,1576.37Z" fill="#0000ff"/>
<path d="M510.88,1569.28L516.88,1563.18L522.88,1569.28L516.88,1575.38Z" fill="#0000ff"/>
<path d="M521.70,1568.29L527.70,1562.19L533.70,1568.29L527.70,1574.39Z" fill="#0000ff"/>
<path d="M532.53,1567.30L538.53,1561.20L544.53,1567.30L538.53,1573.40Z" fill="#0000ff"/>
<path d="M543.35,1566.31L549.35,1560.21L555.35,1566.31L549.35,1572.41Z" fill="#0000ff"/>
<path d="M554.18,1565.32L560.18,1559.22L566.18,1565.32L560.18,1571.42Z" fill="#0000ff"/>
<path d="M565.00,1564.33L571.00,1558.23L577.00,1564.33L571.00,1570.43Z" fill="#0000ff"/>
<path d="M575.83,1563.34L581.83,1557.24L587.83,1563.34L581.83,1569.44Z" fill="#0000ff"/>
<path d="M586.65,1562.35L592.65,1556.25L598.65,1562.35L592.65,1568.45Z" fill="#0000ff"/>
<path d="M597.48,1561.36L603.48,1555.26L609.48,1561.36L603.48,1567.46Z" fill="#0000ff"/>
<path d="M608.30,1560.37L614.30,1554.27L620.30,1560.37L614.30,1566.47Z" fill="#0000ff"/>
<path d="M616.70,1559.60L622.70,1553.50L628.70,1559.60L622.70,1565.70Z" fill="#0000ff"/>
<line x1="84.30" y1="1546.52" x2="90.90" y2="1546.52" stroke="#000" stroke-width="1.8"/>
<line x1="84.30" y1="1477.83" x2="96.60" y2="1477.83" stroke="#000" stroke-width="1.8"/>
<line x1="84.30" y1="1409.15" x2="90.90" y2="1409.15" stroke="#000" stroke-width="1.8"/>
<line x1="84.30" y1="1340.47" x2="96.60" y2="1340.47" stroke="#000" stroke-width="1.8"/>
<line x1="84.30" y1="1271.78" x2="90.90" y2="1271.78" stroke="#000" stroke-width="1.8"/>
<line x1="121.80" y1="1615.20" x2="121.80" y2="1609.20" stroke="#000" stroke-width="1.8"/>
<line x1="159.40" y1="1615.20" x2="159.40" y2="1609.20" stroke="#000" stroke-width="1.8"/>
<line x1="197.00" y1="1615.20" x2="197.00" y2="1609.20" stroke="#000" stroke-width="1.8"/>
<line x1="234.60" y1="1615.20" x2="234.60" y2="1609.20" stroke="#000" stroke-width="1.8"/>
<line x1="272.20" y1="1615.20" x2="272.20" y2="1604.20" stroke="#000" stroke-width="1.8"/>
<line x1="309.80" y1="1615.20" x2="309.80" y2="1609.20" stroke="#000" stroke-width="1.8"/>
<line x1="347.40" y1="1615.20" x2="347.40" y2="1609.20" stroke="#000" stroke-width="1.8"/>
<line x1="385.00" y1="1615.20" x2="385.00" y2="1609.20" stroke="#000" stroke-width="1.8"/>
<line x1="422.60" y1="1615.20" x2="422.60" y2="1609.20" stroke="#000" stroke-width="1.8"/>
<line x1="460.20" y1="1615.20" x2="460.20" y2="1604.20" stroke="#000" stroke-width="1.8"/>
<line x1="497.80" y1="1615.20" x2="497.80" y2="1609.20" stroke="#000" stroke-width="1.8"/>
<line x1="535.40" y1="1615.20" x2="535.40" y2="1609.20" stroke="#000" stroke-width="1.8"/>
<line x1="573.00" y1="1615.20" x2="573.00" y2="1609.20" stroke="#000" stroke-width="1.8"/>
<line x1="610.60" y1="1615.20" x2="610.60" y2="1609.20" stroke="#000" stroke-width="1.8"/>
<text transform="translate(58.74,1623.80) scale(1.0900,1)" class="s" font-size="26.30">0</text>
<text transform="translate(59.24,1486.43) scale(1.0900,1)" class="s" font-size="26.30">2</text>
<text transform="translate(58.10,1349.07) scale(1.0900,1)" class="s" font-size="26.30">4</text>
<text transform="translate(58.53,1211.70) scale(1.0900,1)" class="s" font-size="26.30">6</text>
<text transform="translate(77.03,1648.70) scale(1.0900,1)" class="s" font-size="26.30">0</text>
<text transform="translate(233.11,1648.70) scale(1.0900,1)" class="s" font-size="26.30">0.0001</text>
<text transform="translate(421.03,1648.70) scale(1.0900,1)" class="s" font-size="26.30">0.0002</text>
<text transform="translate(608.82,1648.70) scale(1.0900,1)" class="s" font-size="26.30">0.0003</text>
<text transform="translate(335.38,1676.80) scale(0.9700,1)" class="a" font-size="25.89" letter-spacing="2.214" fill="#000">I (A)</text>
<text transform="translate(334.50,1722.40) scale(0.9862,1)" class="s" font-size="29.35" fill="#000">(c)</text>
<text transform="translate(38.90,1513.36) rotate(-90) scale(0.7800,1)" class="a" font-size="28.95" letter-spacing="1.823">H (I) or dV/dlnI (V)</text>
<text transform="translate(103.75,1241.30) scale(1.0758,1)" class="s" font-size="23.02" fill="#000">Al/PbO/p-Si SILAR</text>
<text transform="translate(273.44,1378.90) scale(1.0531,1)" class="s" font-size="24.12" fill="#000">H (I)</text>
<text transform="translate(314.42,1561.50) scale(1.2014,1)" class="s" font-size="20.86" fill="#000">dV/dlnI</text>
</svg>
</body></html>
